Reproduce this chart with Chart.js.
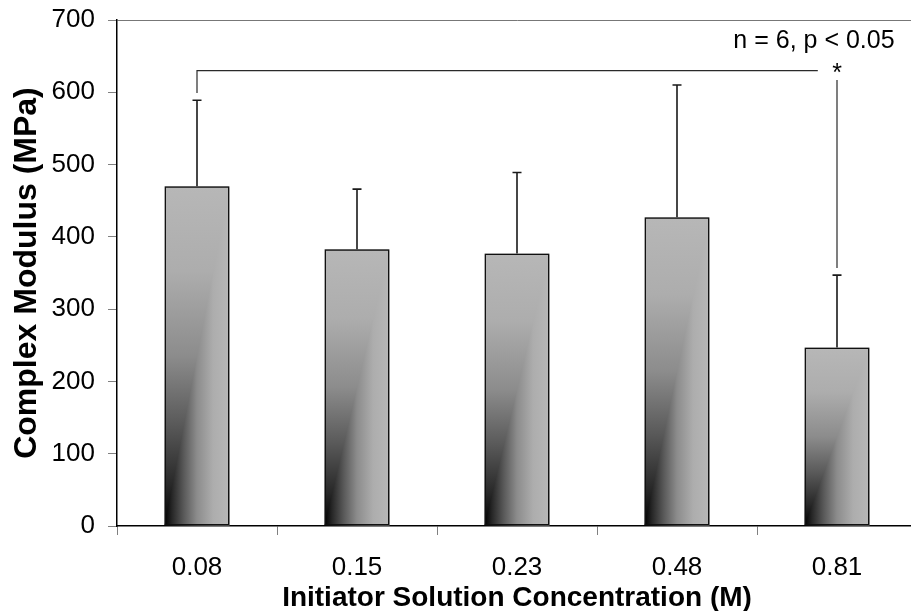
<!DOCTYPE html>
<html>
<head>
<meta charset="utf-8">
<script src="https://cdn.jsdelivr.net/npm/chart.js@4.4.1/dist/chart.umd.min.js"></script>
<style>
html,body{margin:0;padding:0;overflow:hidden;background:#fff;width:911px;height:611px}
#wrap{width:917px;height:611px;position:relative}
</style>
</head>
<body>
<div id="wrap"><canvas id="c" width="917" height="611"></canvas></div>
<script>
// ---- data ----
const categories = ['0.08', '0.15', '0.23', '0.48', '0.81'];
const modulus    = [470, 383, 377, 427, 247];
const errorUp    = [119, 83, 112, 183, 100];
const yTickValues = [0, 100, 200, 300, 400, 500, 600, 700];
// significance annotation (category index / value units)
const bracketX      = [0, 3.88];
const bracketY      = 630;
const bracketFootY  = 599;
const sigLineX      = 4;
const sigLineY      = [617, 357];
const starAt        = [4, 615];
const noteAt        = [4.36, 661];
const noteText      = 'n = 6, p < 0.05';

const FAM = "'Liberation Sans', Arial, Helvetica, sans-serif";
const gradStops = [[0,'#000000'],[0.12,'#282828'],[0.3,'#5a5a5a'],[0.5,'#8c8c8c'],[0.75,'#adadad'],[1,'#b7b7b7']];

const cornerFill = {
  id: 'cornerFill',
  beforeDatasetsDraw(chart) {
    const ctx = chart.ctx;
    chart.getDatasetMeta(0).data.forEach(bar => {
      const p = bar.getProps(['x','y','base','width'], true);
      const l = p.x - p.width/2, r = p.x + p.width/2;
      const t = Math.min(p.y, p.base), b = Math.max(p.y, p.base);
      const gv = ctx.createLinearGradient(0, b, 0, t);
      const gh = ctx.createLinearGradient(l, 0, r, 0);
      gradStops.forEach(([o,c]) => { gv.addColorStop(o,c); gh.addColorStop(o,c); });
      ctx.save();
      ctx.fillStyle = gv;
      ctx.fillRect(l, t, r-l, b-t);
      ctx.beginPath();
      ctx.moveTo(l, b); ctx.lineTo(r, b); ctx.lineTo(r, t); ctx.closePath();
      ctx.fillStyle = gh;
      ctx.fill();
      ctx.restore();
    });
  }
};

const errorBars = {
  id: 'errorBars',
  afterDatasetsDraw(chart) {
    const ctx = chart.ctx, ys = chart.scales.y;
    ctx.save();
    ctx.strokeStyle = '#1a1a1a';
    ctx.lineWidth = 1.6;
    chart.getDatasetMeta(0).data.forEach((bar, i) => {
      const p = bar.getProps(['x','y'], true);
      const yt = ys.getPixelForValue(modulus[i] + errorUp[i]);
      ctx.beginPath();
      ctx.moveTo(p.x, p.y); ctx.lineTo(p.x, yt);
      ctx.moveTo(p.x - 4.5, yt); ctx.lineTo(p.x + 4.5, yt);
      ctx.stroke();
    });
    ctx.restore();
  }
};

const sigNote = {
  id: 'sigNote',
  afterDraw(chart) {
    const ctx = chart.ctx, xs = chart.scales.x, ys = chart.scales.y;
    ctx.save();
    ctx.strokeStyle = '#2a2a2a';
    ctx.lineWidth = 1.2;
    const x0 = xs.getPixelForValue(bracketX[0]), x1 = xs.getPixelForValue(bracketX[1]);
    const yb = ys.getPixelForValue(bracketY), yf = ys.getPixelForValue(bracketFootY);
    ctx.beginPath();
    ctx.moveTo(x0, yf); ctx.lineTo(x0, yb); ctx.lineTo(x1, yb);
    const xs2 = xs.getPixelForValue(sigLineX);
    ctx.moveTo(xs2, ys.getPixelForValue(sigLineY[0]));
    ctx.lineTo(xs2, ys.getPixelForValue(sigLineY[1]));
    ctx.stroke();
    ctx.fillStyle = '#000';
    ctx.font = '25px ' + FAM;
    ctx.textAlign = 'center';
    ctx.textBaseline = 'alphabetic';
    ctx.fillText('*', xs.getPixelForValue(starAt[0]), ys.getPixelForValue(starAt[1]));
    ctx.textAlign = 'right';
    ctx.fillText(noteText, xs.getPixelForValue(noteAt[0]), ys.getPixelForValue(noteAt[1]));
    ctx.restore();
  }
};

new Chart(document.getElementById('c'), {
  type: 'bar',
  data: {
    labels: categories,
    datasets: [{
      data: modulus,
      backgroundColor: 'rgba(0,0,0,0)',
      borderColor: '#111',
      borderWidth: 1.5,
      borderSkipped: false,
      barPercentage: 0.406,
      categoryPercentage: 1
    }]
  },
  options: {
    responsive: false,
    animation: false,
    devicePixelRatio: 1,
    layout: { padding: { left: 0, right: 0, top: 20, bottom: 0 } },
    plugins: { legend: { display: false }, tooltip: { enabled: false } },
    scales: {
      x: {
        offset: true,
        grid: { display: true, offset: true, drawOnChartArea: false, drawTicks: true, tickLength: 9, tickColor: '#808080', tickWidth: 1 },
        border: { display: true, color: '#000', width: 1.5 },
        ticks: { color: '#000', font: { family: FAM, size: 26 }, padding: 17, maxRotation: 0 },
        title: { display: true, text: 'Initiator Solution Concentration (M)', color: '#000',
                 font: { family: FAM, size: 28, weight: 'bold', lineHeight: 0.9 }, padding: { top: 0, bottom: 0 } },
        afterFit(s) { s.height = 85; s.paddingLeft = 0; s.paddingRight = 0; }
      },
      y: {
        min: 0, max: 700,
        afterBuildTicks(s) { s.ticks = yTickValues.map(v => ({ value: v })); },
        grid: {
          drawOnChartArea: true, drawTicks: true, tickLength: 9, tickColor: '#808080', tickWidth: 1,
          color: c => (c.tick && c.tick.value === 700) ? '#777' : 'rgba(0,0,0,0)', lineWidth: 1
        },
        border: { display: true, color: '#000', width: 1.5 },
        ticks: { color: '#000', font: { family: FAM, size: 26 }, padding: 13 },
        title: { display: true, text: 'Complex Modulus (MPa)', color: '#000',
                 font: { family: FAM, size: 32, weight: 'bold', lineHeight: 1.2 }, padding: { top: 8, bottom: 0 } },
        afterFit(s) { s.width = 117; s.paddingTop = 0; s.paddingBottom = 0; }
      }
    }
  },
  plugins: [cornerFill, errorBars, sigNote]
});
</script>
</body>
</html>
